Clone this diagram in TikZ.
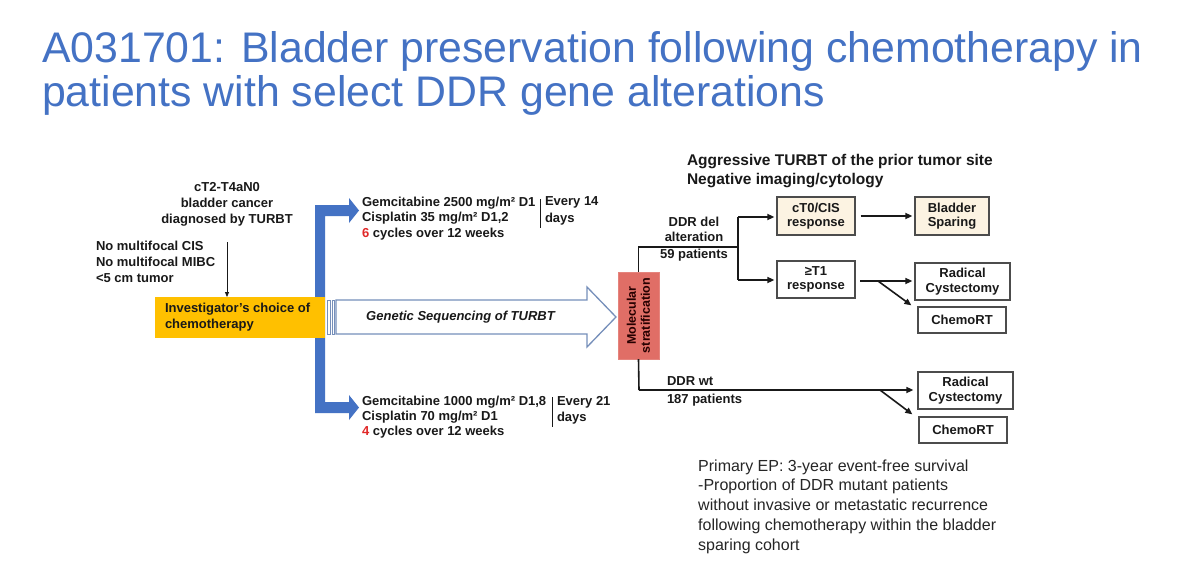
\documentclass[tikz,border=0pt]{standalone}
\usepackage{fontspec}
\setmainfont{Liberation Sans}
\usetikzlibrary{arrows.meta,calc}
\definecolor{tblue}{RGB}{68,114,196}
\definecolor{borange}{RGB}{255,192,0}
\definecolor{salmon}{RGB}{224,110,102}
\definecolor{hollow}{RGB}{118,143,186}
\definecolor{beige}{RGB}{252,243,226}
\definecolor{rednum}{RGB}{225,40,40}
\definecolor{ink}{RGB}{25,25,25}
\begin{document}
\begin{tikzpicture}[x=1pt,y=-1pt,
 lbl/.style={inner sep=0pt, outer sep=0pt, text=ink, font=\bfseries\fontsize{13}{15.5}\selectfont},
 box/.style={draw=black!70, line width=1.3pt, inner sep=0pt, align=center, text=ink, font=\bfseries\fontsize{13}{14.5}\selectfont},
 arr/.style={line width=1.6pt, draw=ink, -{Triangle[length=7pt,width=6pt]}},
 ln/.style={line width=1.6pt, draw=ink},
 sep/.style={line width=0.8pt, draw=ink},
 ttl/.style={anchor=base west, inner sep=0, text=tblue, font=\fontsize{42.8}{45}\selectfont}]
\useasboundingbox (0,0) rectangle (1200,576);
\fill[white] (0,0) rectangle (1200,576);

% title
\node[ttl] (t1) at (42,62) {A031701: Bladder preservation following chemotherapy in};
\node[ttl] (t2) at (42,106) {patients with select DDR gene alterations};

% left inputs
\node[lbl, align=center, font=\bfseries\fontsize{13}{16}\selectfont] (dx) at (227,204) {cT2-T4aN0\\bladder cancer\\diagnosed by TURBT};
\node[lbl, align=left, anchor=west, font=\bfseries\fontsize{13}{15.7}\selectfont] (crit) at (96,262) {No multifocal CIS\\No multifocal MIBC\\<5 cm tumor};

% blue bracket
\fill[tblue] (315,205) -- (349,205) -- (349,198) -- (359,210.5) -- (349,223) -- (349,216) -- (325,216)
  -- (325,402) -- (349,402) -- (349,395) -- (359,407.5) -- (349,420) -- (349,413) -- (315,413) -- cycle;

% investigator box
\node[fill=borange, minimum width=170, minimum height=41, inner sep=0, anchor=north west] (inv) at (155,297) {};
\node[lbl, align=left, anchor=west, font=\bfseries\fontsize{13}{16}\selectfont] (invt) at (165,317.5) {Investigator’s choice of\\chemotherapy};
\coordinate (a0) at (227,242);
\draw[line width=0.8pt, draw=ink, -{Triangle[length=5pt,width=4pt]}] (a0) -- (a0 |- inv.north);

% hollow arrow
\draw[hollow, line width=1.3pt, fill=white] (336,300) -- (587,300) -- (587,287) -- (616,317) -- (587,347) -- (587,334) -- (336,334) -- cycle;
\draw[hollow, line width=1pt, fill=white] (327,300) rectangle (330,334);
\draw[hollow, line width=1pt, fill=white] (332,300) rectangle (334.5,334);
\node[lbl, font=\bfseries\itshape\fontsize{13}{15}\selectfont] (gs) at (460.5,317) {Genetic Sequencing of TURBT};

% chemo regimens
\node[lbl, anchor=west, align=left] (g1) at (362,218.5) {Gemcitabine 2500 mg/m² D1\\Cisplatin 35 mg/m² D1,2\\{\color{rednum}6} cycles over 12 weeks};
\draw[sep] (540,199) -- (540,228);
\node[lbl, anchor=west, align=left, font=\bfseries\fontsize{13}{16.5}\selectfont] (e1) at (545,211) {Every 14\\days};
\node[lbl, anchor=west, align=left, font=\bfseries\fontsize{13}{15}\selectfont] (g2) at (362,417) {Gemcitabine 1000 mg/m² D1,8\\Cisplatin 70 mg/m² D1\\{\color{rednum}4} cycles over 12 weeks};
\draw[sep] (552,397) -- (552,427);
\node[lbl, anchor=west, align=left, font=\bfseries\fontsize{13}{16}\selectfont] (e2) at (557,410) {Every 21\\days};

% molecular stratification
\node[fill=salmon, draw=salmon!85!white, rotate=90, minimum width=87, minimum height=41, inner sep=0, align=center,
  font=\bfseries\fontsize{12.5}{14}\selectfont, text=black!85!red] (mol) at (638.5,315.5) {Molecular\\stratification};

% header
\node[lbl, anchor=west, align=left, font=\bfseries\fontsize{15.5}{18.5}\selectfont] (hdr) at (687,171) {Aggressive TURBT of the prior tumor site\\Negative imaging/cytology};

% boxes
\node[box, fill=beige, minimum width=78, minimum height=38] (cto) at (816,216) {cT0/CIS\\response};
\node[box, fill=beige, minimum width=74, minimum height=38] (bs) at (952,216) {Bladder\\Sparing};
\node[box, fill=white, minimum width=78, minimum height=37] (tr) at (816,279.5) {≥T1\\response};
\node[box, fill=white, minimum width=95, minimum height=37] (rc1) at (962.5,281.5) {Radical\\Cystectomy};
\node[box, fill=white, minimum width=88, minimum height=26] (cr1) at (962,320) {ChemoRT};
\node[box, fill=white, minimum width=95, minimum height=37] (rc2) at (965.5,390.5) {Radical\\Cystectomy};
\node[box, fill=white, minimum width=88, minimum height=26] (cr2) at (963,430) {ChemoRT};

% top branch
\coordinate (b1) at (738,247);
\coordinate (b1t) at (738,217);
\coordinate (b1b) at (738,280);
\draw[ln] (mol.east) -- (mol.east |- b1) -- (b1);
\draw[ln] (b1t) -- (b1b);
\draw[arr, shorten >=2pt] (b1t) -- (b1t -| cto.west);
\draw[arr, shorten >=2pt] (b1b) -- (b1b -| tr.west);
\node[lbl, align=center, font=\bfseries\fontsize{13}{15}\selectfont] (ddel) at (694,229.5) {DDR del\\alteration};
\node[lbl] (p59) at (694,255) {59 patients};

\draw[arr, shorten <=5pt, shorten >=2pt] (cto.east) -- (bs.west);
\coordinate (r1) at (860,281);
\draw[arr, shorten >=2pt] (r1) -- (r1 -| rc1.west);
\coordinate (d1) at (878,281);
\draw[arr] (d1) -- ($(cr1.north west)+(-6,-1)$);

% bottom branch
\coordinate (b2) at (639,390);
\draw[ln] (mol.west) -- (b2);
\draw[arr, shorten >=4pt] (b2) -- (b2 -| rc2.west);
\coordinate (d2) at (880,390);
\draw[arr] (d2) -- ($(cr2.north west)+(-6,-2)$);
\node[lbl, anchor=west] (dwt) at (667,381) {DDR wt};
\node[lbl, anchor=west] (p187) at (667,400) {187 patients};

% primary endpoint
\node[anchor=west, align=left, inner sep=0, font=\fontsize{16}{19.7}\selectfont, text=black!85] (ep) at (698,506.5) {Primary EP: 3-year event-free survival\\-Proportion of DDR mutant patients\\without invasive or metastatic recurrence\\following chemotherapy within the bladder\\sparing cohort};
\end{tikzpicture}
\end{document}
